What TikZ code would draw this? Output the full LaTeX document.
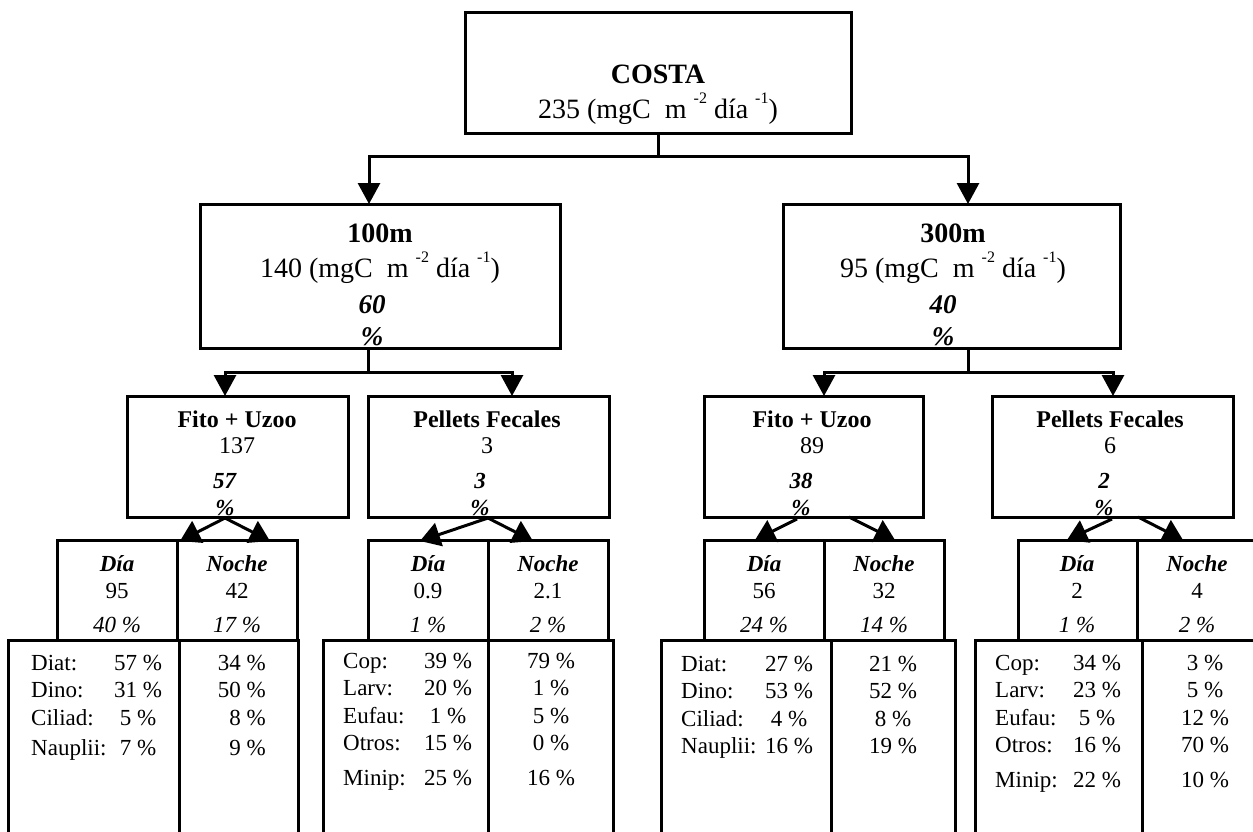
\documentclass[tikz,border=0pt]{standalone}
\usepackage{fontspec}
\setmainfont{Liberation Serif}
\usetikzlibrary{arrows.meta,positioning,calc}
\newcommand{\bimark}[1]{\textbf{\textit{#1}}}
\newcommand{\supmark}[1]{\raisebox{15pt}{\fontsize{16}{16}\selectfont #1}}
\newcommand{\unidad}{(mgC\ \ m \supmark{-2} día \supmark{-1})}
\tikzset{
  caja/.style={rectangle, draw=black, line width=3pt, fill=white, inner sep=0pt},
  linea/.style={line width=3pt},
  flecha/.style={linea, -{Triangle[width=22pt,length=21pt]}},
  flechita/.style={linea, -{Triangle[width=24pt,length=20pt]}},
  txtgr/.style={font=\fontsize{28}{35}\selectfont, align=center, inner sep=0pt, anchor=base},
  txtmed/.style={font=\fontsize{24}{26}\selectfont, align=center, inner sep=0pt, anchor=base},
  txtch/.style={font=\fontsize{23}{27}\selectfont, align=center, inner sep=0pt, anchor=base},
  tabla/.style={font=\fontsize{23}{27.5}\selectfont, inner sep=0pt}
}

\begin{document}
\begin{tikzpicture}[x=1pt, y=-1pt]
  \useasboundingbox (0,0) rectangle (1253,831);

  % boxes
  \node[caja, minimum width=386pt, minimum height=121pt] (costa) at (658,72.5) {};
  \node[caja, minimum width=360pt, minimum height=144pt] (m100) at (380,276) {};
  \node[caja, minimum width=337pt, minimum height=144pt] (m300) at (951.5,276) {};
  \node[caja, minimum width=221pt, minimum height=121pt] (fito1) at (237.5,456.5) {};
  \node[caja, minimum width=241pt, minimum height=121pt] (pell1) at (488.5,456.5) {};
  \node[caja, minimum width=219pt, minimum height=121pt] (fito2) at (813.5,456.5) {};
  \node[caja, minimum width=241pt, minimum height=121pt] (pell2) at (1112.5,456.5) {};
  \node[caja, minimum width=120pt, minimum height=100pt] (dia1) at (117,590) {};
  \node[caja, minimum width=120pt, minimum height=100pt] (noc1) at (237,590) {};
  \node[caja, minimum width=120pt, minimum height=100pt] (dia2) at (428,590) {};
  \node[caja, minimum width=120pt, minimum height=100pt] (noc2) at (548,590) {};
  \node[caja, minimum width=120pt, minimum height=100pt] (dia3) at (764,590) {};
  \node[caja, minimum width=120pt, minimum height=100pt] (noc3) at (884,590) {};
  \node[caja, minimum width=119pt, minimum height=100pt] (dia4) at (1077.5,590) {};
  \node[caja, minimum width=123pt, minimum height=100pt] (noc4) at (1198.5,590) {};
  \node[caja, minimum width=171pt, minimum height=205pt] (tab1a) at (93.5,742.5) {};
  \node[caja, minimum width=119pt, minimum height=205pt] (tab1b) at (238.5,742.5) {};
  \node[caja, minimum width=165pt, minimum height=205pt] (tab2a) at (405.5,742.5) {};
  \node[caja, minimum width=125pt, minimum height=205pt] (tab2b) at (550.5,742.5) {};
  \node[caja, minimum width=170pt, minimum height=205pt] (tab3a) at (746,742.5) {};
  \node[caja, minimum width=124pt, minimum height=205pt] (tab3b) at (893,742.5) {};
  \node[caja, minimum width=167pt, minimum height=205pt] (tab4a) at (1058.5,742.5) {};
  \node[caja, minimum width=118pt, minimum height=205pt] (tab4b) at (1201,742.5) {};

  % connectors
  \coordinate (c1) at (658,156);
  \coordinate (in100) at (369,204);
  \coordinate (in300) at (968,204);
  \draw[linea] (costa.south) -- (c1);
  \draw[flecha] (c1) -| (in100);
  \draw[flecha] (c1) -| (in300);

  \coordinate (out100) at (368,348);
  \coordinate (c2) at (368,372);
  \coordinate (inF1) at (225,396);
  \coordinate (inP1) at (512,396);
  \draw[linea] (out100) -- (c2);
  \draw[flecha] (c2) -| (inF1);
  \draw[flecha] (c2) -| (inP1);

  \coordinate (out300) at (968,348);
  \coordinate (c3) at (968,372);
  \coordinate (inF2) at (824,396);
  \coordinate (inP2) at (1113,396);
  \draw[linea] (out300) -- (c3);
  \draw[flecha] (c3) -| (inF2);
  \draw[flecha] (c3) -| (inP2);

  \coordinate (ap1) at (225,518);
  \coordinate (ap2) at (488,518);
  \coordinate (ap3a) at (797,519);
  \coordinate (ap3b) at (849,517);
  \coordinate (ap4a) at (1112,519);
  \coordinate (ap4b) at (1138,517);
  \coordinate (tD1) at (180,541);
  \coordinate (tN1) at (270,541);
  \coordinate (tD2) at (420,541);
  \coordinate (tN2) at (533,541);
  \coordinate (tD3) at (755,540);
  \coordinate (tN3) at (895,540);
  \coordinate (tD4) at (1067,540);
  \coordinate (tN4) at (1183,540);
  \draw[flechita] (ap1) -- (tD1);
  \draw[flechita] (ap1) -- (tN1);
  \draw[flechita] (ap2) -- (tD2);
  \draw[flechita] (ap2) -- (tN2);
  \draw[flechita] (ap3a) -- (tD3);
  \draw[flechita] (ap3b) -- (tN3);
  \draw[flechita] (ap4a) -- (tD4);
  \draw[flechita] (ap4b) -- (tN4);

  % texts (base = last line)
  \node[txtgr] (costaT) at (658,118) {\textbf{COSTA}\\235 \unidad};
  \node[txtgr] (m100T) at (380,277) {\textbf{100m}\\140 \unidad};
  \node[txtgr, font=\fontsize{27}{32}\selectfont] (m100P) at (372,345) {\bimark{60}\\\bimark{\%}};
  \node[txtgr] (m300T) at (953,277) {\textbf{300m}\\95 \unidad};
  \node[txtgr, font=\fontsize{27}{32}\selectfont] (m300P) at (943,345) {\bimark{40}\\\bimark{\%}};

  \node[txtmed] (fito1T) at (237,453) {\textbf{Fito + Uzoo}\\137};
  \node[txtch] (fito1P) at (225,515) {\bimark{57}\\\bimark{\%}};
  \node[txtmed] (pell1T) at (487,453) {\textbf{Pellets Fecales}\\3};
  \node[txtch] (pell1P) at (480,515) {\bimark{3}\\\bimark{\%}};
  \node[txtmed] (fito2T) at (812,453) {\textbf{Fito + Uzoo}\\89};
  \node[txtch] (fito2P) at (801,515) {\bimark{38}\\\bimark{\%}};
  \node[txtmed] (pell2T) at (1110,453) {\textbf{Pellets Fecales}\\6};
  \node[txtch] (pell2P) at (1104,515) {\bimark{2}\\\bimark{\%}};

  \node[txtch] (dia1T) at (117,632) {\bimark{Día}\\95\\[7pt]\textit{40 \%}};
  \node[txtch] (noc1T) at (237,632) {\bimark{Noche}\\42\\[7pt]\textit{17 \%}};
  \node[txtch] (dia2T) at (428,632) {\bimark{Día}\\0.9\\[7pt]\textit{1 \%}};
  \node[txtch] (noc2T) at (548,632) {\bimark{Noche}\\2.1\\[7pt]\textit{2 \%}};
  \node[txtch] (dia3T) at (764,632) {\bimark{Día}\\56\\[7pt]\textit{24 \%}};
  \node[txtch] (noc3T) at (884,632) {\bimark{Noche}\\32\\[7pt]\textit{14 \%}};
  \node[txtch] (dia4T) at (1077,632) {\bimark{Día}\\2\\[7pt]\textit{1 \%}};
  \node[txtch] (noc4T) at (1197,632) {\bimark{Noche}\\4\\[7pt]\textit{2 \%}};

  % tables
  \node[tabla, anchor=base west] (tab1aT) at (31,670)
    {\begin{tabular}[t]{@{}p{83pt}@{}c@{}}Diat: & 57 \%\\ Dino: & 31 \%\\ Ciliad: & 5 \%\\[3pt] Nauplii: & 7 \%\end{tabular}};
  \node[tabla, anchor=base east] (tab1bT) at (266,670)
    {\begin{tabular}[t]{@{}r@{}}34 \%\\ 50 \%\\ 8 \%\\[3pt] 9 \%\end{tabular}};
  \node[tabla, anchor=base west] (tab2aT) at (343,668)
    {\begin{tabular}[t]{@{}p{81pt}@{}c@{}}Cop: & 39 \%\\ Larv: & 20 \%\\ Eufau: & 1 \%\\ Otros: & 15 \%\\[7pt] Minip: & 25 \%\end{tabular}};
  \node[tabla, anchor=base] (tab2bT) at (551,668)
    {\begin{tabular}[t]{@{}c@{}}79 \%\\ 1 \%\\ 5 \%\\ 0 \%\\[7pt] 16 \%\end{tabular}};
  \node[tabla, anchor=base west] (tab3aT) at (681,671)
    {\begin{tabular}[t]{@{}p{84pt}@{}c@{}}Diat: & 27 \%\\ Dino: & 53 \%\\ Ciliad: & 4 \%\\ Nauplii: & 16 \%\end{tabular}};
  \node[tabla, anchor=base] (tab3bT) at (893,671)
    {\begin{tabular}[t]{@{}c@{}}21 \%\\ 52 \%\\ 8 \%\\ 19 \%\end{tabular}};
  \node[tabla, anchor=base west] (tab4aT) at (995,670)
    {\begin{tabular}[t]{@{}p{78pt}@{}c@{}}Cop: & 34 \%\\ Larv: & 23 \%\\ Eufau: & 5 \%\\ Otros: & 16 \%\\[7pt] Minip: & 22 \%\end{tabular}};
  \node[tabla, anchor=base] (tab4bT) at (1205,670)
    {\begin{tabular}[t]{@{}c@{}}3 \%\\ 5 \%\\ 12 \%\\ 70 \%\\[7pt] 10 \%\end{tabular}};
\end{tikzpicture}
\end{document}
